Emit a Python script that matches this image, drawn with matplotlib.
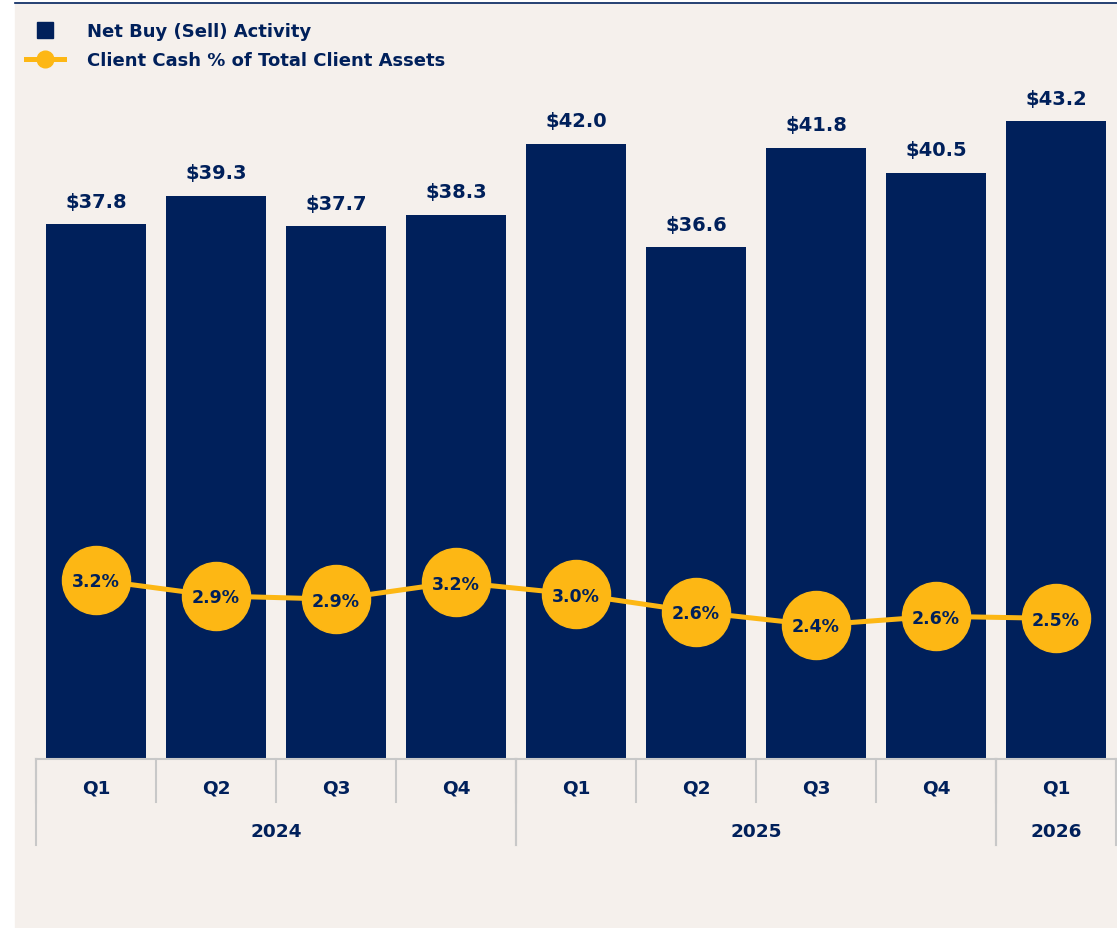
import numpy as np
import matplotlib.pyplot as plt
from matplotlib.lines import Line2D
from matplotlib.patches import Rectangle
from matplotlib.transforms import blended_transform_factory

# data
quarters = ['Q1', 'Q2', 'Q3', 'Q4', 'Q1', 'Q2', 'Q3', 'Q4', 'Q1']
years = ['2024', '2024', '2024', '2024', '2025', '2025', '2025', '2025', '2026']
net_buy = [37.8, 39.3, 37.7, 38.3, 42.0, 36.6, 41.8, 40.5, 43.2]
cash_pct = [3.22, 2.93, 2.87, 3.18, 2.96, 2.64, 2.40, 2.56, 2.52]

NAVY = '#00205B'
GOLD = '#FDB714'
BG = '#F5F0EC'
SEP = '#C8C8C8'

plt.rcParams['font.family'] = ['DejaVu Sans']
plt.rcParams['font.weight'] = 'bold'

W, H = 1117, 929


def fx(px):
    return px / W


def fy(py):
    return 1 - py / H


fig = plt.figure(figsize=(W / 100, H / 100), dpi=100, facecolor='white')
fig.patches.append(Rectangle((fx(15), 0), 1 - fx(15), fy(5), transform=fig.transFigure,
                             color=BG, zorder=-10))
fig.add_artist(Line2D([fx(15), 1], [fy(4), fy(4)], color=NAVY, lw=1.2))

x = np.arange(len(net_buy))

# bars
ax = fig.add_axes([fx(36), fy(760), fx(1080), 680 / H])
ax.patch.set_visible(False)
ax.set_xlim(-0.5, len(x) - 0.5)
ax.set_ylim(9.8, 45.4)
ax.set_axis_off()
ax.bar(x, net_buy, width=100 / 120, color=NAVY)
for xi, v in zip(x, net_buy):
    ax.annotate(f'${v:.1f}', (xi, v), xytext=(0, 12.6), textcoords='offset points',
                ha='center', va='baseline', fontsize=14, color=NAVY)

# line on its own scale
ax2 = ax.twinx()
ax2.set_ylim(-0.036, 12.33)
ax2.set_axis_off()
ax2.plot(x, cash_pct, color=GOLD, lw=3.6, marker='o', ms=49, mfc=GOLD, mec=GOLD,
         clip_on=False)
for xi, v in zip(x, cash_pct):
    ax2.annotate(f'{v:.1f}%', (xi, v), xytext=(0, -4.6), textcoords='offset points',
                 ha='center', va='baseline', fontsize=12.5, color=NAVY)

# category axis with quarter / year rows
trans = blended_transform_factory(ax.transData, fig.transFigure)
ax.add_line(Line2D([-0.5, len(x) - 0.5], [fy(760), fy(760)], transform=trans,
                   color=SEP, lw=1.5, clip_on=False))
for b in np.arange(-0.5, len(x)):
    ax.add_line(Line2D([b, b], [fy(760), fy(803)], transform=trans, color=SEP,
                       lw=1.5, clip_on=False))
for xi, q in zip(x, quarters):
    ax.text(xi, fy(793.4), q, transform=trans, ha='center', va='baseline',
            fontsize=13.3, color=NAVY)

starts = [0] + [i for i in range(1, len(years)) if years[i] != years[i - 1]]
ends = starts[1:] + [len(years)]
for s, e in zip(starts, ends):
    for b in (s - 0.5, e - 0.5):
        ax.add_line(Line2D([b, b], [fy(760), fy(846)], transform=trans, color=SEP,
                           lw=1.5, clip_on=False))
    ax.text((s + e - 1) / 2, fy(837), years[s], transform=trans, ha='center',
            va='baseline', fontsize=13.3, color=NAVY)

# legend
fig.add_artist(Line2D([fx(45)], [fy(31)], marker='s', ms=11.5, color=NAVY, ls='none'))
fig.text(fx(87), fy(37.3), 'Net Buy (Sell) Activity', va='baseline', fontsize=13,
         color=NAVY)
fig.add_artist(Line2D([fx(26), fx(64)], [fy(59.5), fy(59.5)], color=GOLD, lw=3.6))
fig.add_artist(Line2D([fx(45)], [fy(59.5)], marker='o', ms=12, color=GOLD, ls='none'))
fig.text(fx(87), fy(66.3), 'Client Cash % of Total Client Assets', va='baseline',
         fontsize=13, color=NAVY)

fig.savefig('out.png', dpi=100, facecolor=fig.get_facecolor())
